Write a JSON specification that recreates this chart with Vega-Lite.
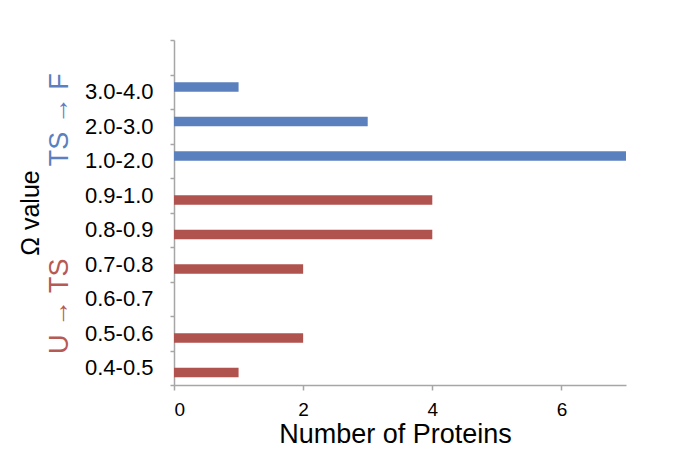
{
  "$schema": "https://vega.github.io/schema/vega-lite/v6.json",
  "width": 452,
  "height": 345,
  "autosize": {"type": "none"},
  "padding": {"left": 174, "top": 40, "right": 54, "bottom": 73},
  "background": "white",
  "config": {"view": {"stroke": null}, "font": "Liberation Sans", "axis": {"grid": false}},
  "data": {"values": [
    {"range": "3.0-4.0", "transition": "TS → F", "count": 1},
    {"range": "2.0-3.0", "transition": "TS → F", "count": 3},
    {"range": "1.0-2.0", "transition": "TS → F", "count": 7},
    {"range": "0.9-1.0", "transition": "U → TS", "count": 4},
    {"range": "0.8-0.9", "transition": "U → TS", "count": 4},
    {"range": "0.7-0.8", "transition": "U → TS", "count": 2},
    {"range": "0.6-0.7", "transition": "U → TS", "count": 0},
    {"range": "0.5-0.6", "transition": "U → TS", "count": 2},
    {"range": "0.4-0.5", "transition": "U → TS", "count": 1}
  ]},
  "layer": [
    {
      "mark": {"type": "bar"},
      "encoding": {
        "y": {
          "field": "range", "type": "nominal", "sort": null,
          "scale": {"domain": [" ", "3.0-4.0", "2.0-3.0", "1.0-2.0", "0.9-1.0", "0.8-0.9", "0.7-0.8", "0.6-0.7", "0.5-0.6", "0.4-0.5"], "paddingInner": 0, "paddingOuter": 0},
          "axis": {"title": null, "orient": "left", "tickBand": "extent", "labelFontSize": 22, "labelColor": "black", "domainColor": "#a6a6a6", "tickColor": "#a6a6a6", "tickSize": 4, "labelPadding": 17, "domainWidth": 1.5, "tickWidth": 1.5, "labelLimit": 200}
        },
        "yOffset": {"field": "transition", "type": "nominal", "scale": {"domain": ["TS → F", "U → TS"], "paddingInner": 0, "paddingOuter": 0.8}},
        "x": {
          "field": "count", "type": "quantitative",
          "scale": {"domain": [0, 7], "nice": false},
          "axis": {"title": "Number  of Proteins", "values": [0, 2, 4, 6], "format": "d", "labelFontSize": 19, "labelColor": "black", "domainColor": "#a6a6a6", "tickColor": "#a6a6a6", "tickSize": 5, "labelPadding": 10, "domainWidth": 1.5, "tickWidth": 1.5, "titleFontSize": 27, "titleFontWeight": "normal", "titleColor": "black", "titlePadding": 2, "titleX": 221}
        },
        "color": {"field": "transition", "type": "nominal", "scale": {"domain": ["TS → F", "U → TS"], "range": ["#5b80be", "#b0524d"]}, "legend": null}
      }
    },
    {
      "mark": {"type": "point", "opacity": 0},
      "encoding": {
        "y": {
          "field": "transition", "type": "nominal",
          "scale": {"type": "point", "domain": ["TS → F", "U → TS"], "padding": 0.425},
          "axis": {"orient": "left", "offset": 99, "title": "Ω value", "domain": false, "ticks": false, "labelAngle": -90, "labelAlign": "center", "labelBaseline": "bottom", "labelFontSize": 27, "labelPadding": 2,
            "labelColor": {"condition": {"test": "datum.value === 'U → TS'", "value": "#b65a55"}, "value": "#5b7fc0"},
            "titleFontSize": 25, "titleFontWeight": "normal", "titleColor": "black", "titlePadding": 2}
        },
        "x": {"field": "count", "type": "quantitative"}
      }
    }
  ],
  "resolve": {"scale": {"y": "independent"}, "axis": {"y": "independent"}}
}
